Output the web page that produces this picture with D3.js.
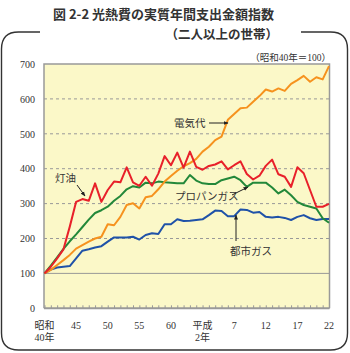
<!DOCTYPE html>
<html><head><meta charset="utf-8">
<script src="https://cdn.jsdelivr.net/npm/d3@7"></script>
<style>html,body{margin:0;padding:0;background:#fff;}svg{display:block;}</style>
</head><body>
<div id="chart"></div>
<script>
const years = [1965,1966,1967,1968,1969,1970,1971,1972,1973,1974,1975,1976,1977,1978,1979,1980,1981,1982,1983,1984,1985,1986,1987,1988,1989,1990,1991,1992,1993,1994,1995,1996,1997,1998,1999,2000,2001,2002,2003,2004,2005,2006,2007,2008,2009,2010];
const kerosene = [100,119,143,169,234,305,313,308,358,305,339,363,361,404,361,351,377,351,386,436,410,446,403,449,405,397,408,412,421,398,410,421,385,369,380,408,426,384,377,348,404,387,339,291,291,299];
const propane = [100,122,146,170,192,212,233,254,273,281,291,308,322,341,350,346,360,358,363,361,360,358,358,382,366,358,356,356,367,372,377,367,348,360,360,360,346,329,340,324,305,296,291,286,258,245];
const electricity = [100,110,124,138,153,171,181,191,200,205,241,238,262,296,301,286,318,322,341,363,379,394,407,416,428,449,463,482,492,540,557,573,575,592,608,627,621,630,623,643,654,666,649,662,656,694];
const cityGas = [100,111,117,119,121,143,165,169,174,178,191,203,203,203,205,197,210,215,213,241,241,255,250,251,253,255,267,280,279,264,264,283,282,274,276,262,260,262,259,253,262,267,258,253,256,256];
const yTicks = [0,100,200,300,400,500,600,700];
const xTickYears = [1965,1970,1975,1980,1985,1990,1995,2000,2005,2010];
const xTickLabels = [["昭和","40年"],["45"],["50"],["55"],["60"],["平成","2年"],["7"],["12"],["17"],["22"]];
const titleText = "図 2-2 光熱費の実質年間支出金額指数";
const subtitleText = "（二人以上の世帯）";
const unitText = "（昭和40年＝100）";

const W = 350, H = 353;
const svg = d3.select("#chart").append("svg").attr("width", W).attr("height", H);
const serif = "'Liberation Serif','DejaVu Serif','Noto Sans CJK JP',serif";
const sans = "'Noto Sans CJK JP','Noto Sans',sans-serif";

// frame
const fx0 = 1.5, fx1 = 347.5, fy0 = 32, fy1 = 350, r = 17;
svg.append("path")
  .attr("d", `M40,${fy0} L${fx0+r},${fy0} Q${fx0},${fy0} ${fx0},${fy0+r} L${fx0},${fy1-r} Q${fx0},${fy1} ${fx0+r},${fy1} L${fx1-r},${fy1} Q${fx1},${fy1} ${fx1},${fy1-r} L${fx1},${fy0+r} Q${fx1},${fy0} ${fx1-r},${fy0} L301,${fy0}`)
  .attr("fill","none").attr("stroke","#333").attr("stroke-width",1.4);

svg.append("text").attr("x",53).attr("y",19).attr("font-family",sans).attr("font-size",13).attr("font-weight",700).attr("fill","#333").text(titleText);
svg.append("text").attr("x",278).attr("y",39).attr("text-anchor","end").attr("font-family",sans).attr("font-size",12.5).attr("font-weight",700).attr("fill","#333").text(subtitleText);
svg.append("text").attr("x",331).attr("y",61).attr("text-anchor","end").attr("font-family",serif).attr("font-size",9.5).attr("fill","#333").text(unitText);

const x = d3.scaleLinear().domain([1965,2010]).range([44.5,329]);
const y = d3.scaleLinear().domain([0,700]).range([308.3,64]);

// plot background
svg.append("rect").attr("x",44).attr("y",y(700)).attr("width",329.5-44).attr("height",y(0)-y(700)).attr("fill","#fbf8c8");

// gridlines
svg.selectAll("line.grid").data(yTicks.filter(v=>v>100 && v<700)).enter().append("line")
  .attr("x1",44).attr("x2",329.5).attr("y1",d=>y(d)).attr("y2",d=>y(d))
  .attr("stroke","#999").attr("stroke-width",1).attr("stroke-dasharray","3,3");
svg.append("line").attr("x1",44).attr("x2",329.5).attr("y1",y(100)).attr("y2",y(100)).attr("stroke","#999").attr("stroke-width",1);

// borders
svg.append("path").attr("d",`M44,${y(0)} L44,${y(700)} L329.5,${y(700)} L329.5,${y(0)}`).attr("fill","none").attr("stroke","#999").attr("stroke-width",1.5);

// y axis labels
const yAxis = d3.axisLeft(y).tickValues(yTicks).tickSize(0).tickPadding(9);
const ya = svg.append("g").attr("transform","translate(44,0)").call(yAxis);
ya.select(".domain").remove();
ya.selectAll("text").attr("font-family",serif).attr("font-size",10).attr("fill","#333");

// bottom axis with yearly minor ticks (pointing up)
const xAxis = d3.axisTop(x).tickValues(years).tickSize(3).tickFormat("");
const xa = svg.append("g").attr("transform",`translate(0,${y(0)})`).call(xAxis);
xa.select(".domain").remove();
xa.selectAll(".tick line").attr("stroke","#999").attr("stroke-width",1);
svg.append("line").attr("x1",44).attr("x2",329.5).attr("y1",y(0)).attr("y2",y(0)).attr("stroke","#999").attr("stroke-width",2);

// x labels
xTickYears.forEach((yr,i)=>{
  const t = svg.append("text").attr("x",x(yr)).attr("y",329).attr("text-anchor","middle")
    .attr("font-family",serif).attr("font-size",10).attr("fill","#333");
  xTickLabels[i].forEach((s,j)=>{
    t.append("tspan").attr("x",x(yr)).attr("dy", j===0?0:12).text(s);
  });
});

// lines
const line = d3.line().x((d,i)=>x(years[i])).y(d=>y(d));
const series = [
  {vals: cityGas, color:"#1f52a8"},
  {vals: propane, color:"#23883a"},
  {vals: electricity, color:"#f6921e"},
  {vals: kerosene, color:"#e8202a"}
];
svg.selectAll("path.series").data(series).enter().append("path")
  .attr("d",d=>line(d.vals)).attr("fill","none").attr("stroke",d=>d.color)
  .attr("stroke-width",2).attr("stroke-linejoin","round");

// arrow marker
svg.append("defs").append("marker").attr("id","arr").attr("viewBox","0 0 10 10")
  .attr("refX",9).attr("refY",5).attr("markerWidth",5).attr("markerHeight",5).attr("orient","auto")
  .append("path").attr("d","M0,1 L10,5 L0,9 Z").attr("fill","#222");

function annot(tx,ty,label,ax1,ay1,ax2,ay2,anchor){
  svg.append("text").attr("x",tx).attr("y",ty).attr("text-anchor",anchor||"start")
    .attr("font-family",serif).attr("font-size",10.5).attr("fill","#333").text(label);
  svg.append("line").attr("x1",ax1).attr("y1",ay1).attr("x2",ax2).attr("y2",ay2)
    .attr("stroke","#222").attr("stroke-width",1).attr("marker-end","url(#arr)");
}
annot(55,182,"灯油",77,185,85,196);
annot(174,127,"電気代",209,123,228,123);
annot(175,200,"プロパンガス",232,195,248,187);
annot(230,255,"都市ガス",236,241,236,215);
</script>
</body></html>
